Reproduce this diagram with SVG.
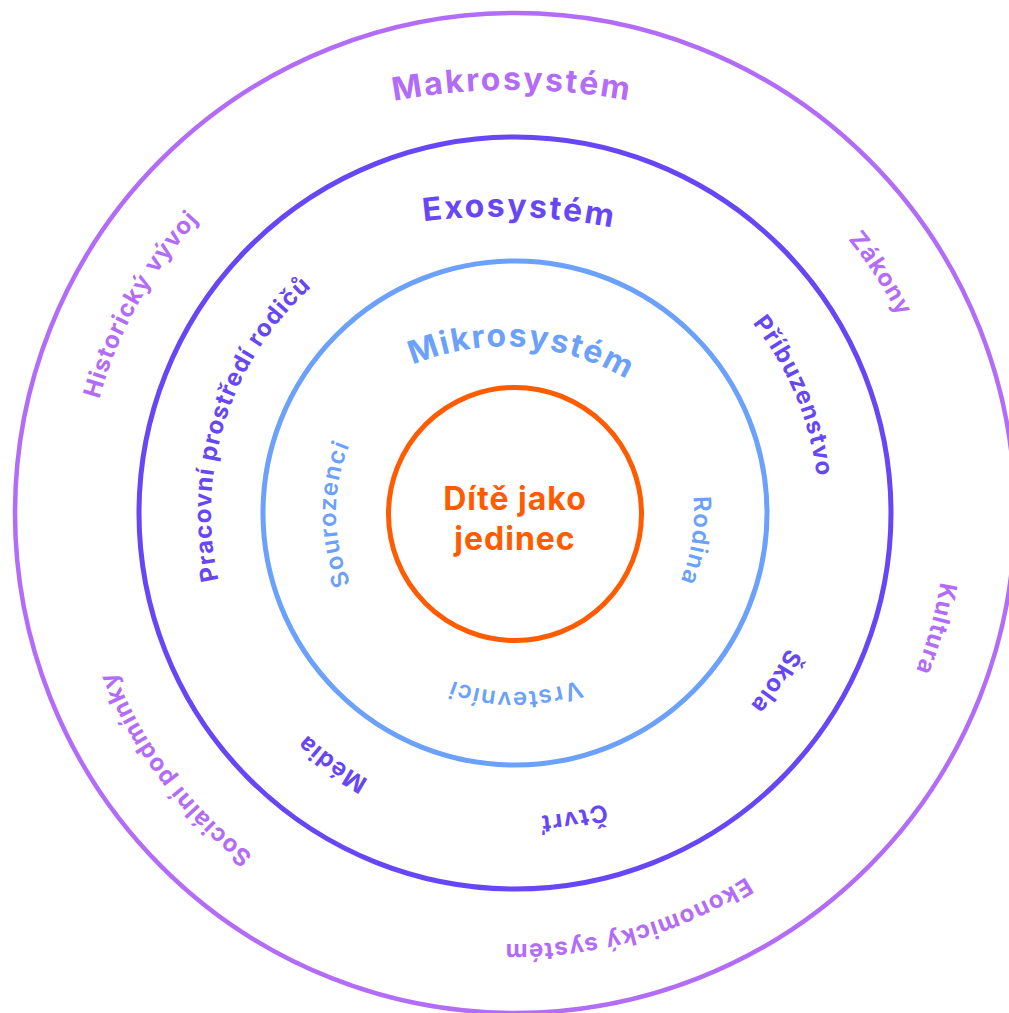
<svg xmlns="http://www.w3.org/2000/svg" width="1009" height="1013" viewBox="0 0 1009 1013">
<style>
  .ring{fill:none}
  .t{font-family:Inter,"Noto Sans","DejaVu Sans",sans-serif;font-size:24px;font-weight:700;letter-spacing:1.1px;text-anchor:middle}
  .h{font-size:32px;letter-spacing:2.2px}
  .cMac{fill:#B26CF7}
  .cExo{fill:#6747F5}
  .cMic{fill:#6BA1FA;font-weight:600;letter-spacing:1.3px}
  .cMicH{fill:#6BA1FA;letter-spacing:1.8px}
  .child{font-family:Inter,"Noto Sans","DejaVu Sans",sans-serif;font-size:32px;font-weight:700;fill:#FF5B00;text-anchor:middle;letter-spacing:1px}
</style>
<defs>
  <path id="c431" d="M515 944 A431 431 0 1 1 515 82 A431 431 0 1 1 515 944"/>
  <path id="c304" d="M515 817 A304 304 0 1 1 515 209 A304 304 0 1 1 515 817"/>
  <path id="c179" d="M515 692 A179 179 0 1 1 515 334 A179 179 0 1 1 515 692"/>
  <path id="a650" d="M-196.8 30.5 A650 650 0 0 1 196.8 30.5"/>
  <path id="a600" d="M-196.3 33 A600 600 0 0 1 196.3 33"/>
  <path id="a240" d="M-140.4 45.4 A240 240 0 0 1 140.4 45.4"/>
</defs>
<rect width="1009" height="1013" fill="#ffffff"/>

<g id="makrosystem">
  <circle class="ring" cx="515" cy="513" r="500" stroke="#B26CF7" stroke-width="4.5"/>
  <text class="t h cMac" transform="translate(512 90)"><textPath href="#a650" startOffset="50%">Makrosystém</textPath></text>
  <text class="t cMac" transform="rotate(299.1 515 513)"><textPath href="#c431" startOffset="50%">Historický vývoj</textPath></text>
  <text class="t cMac" transform="rotate(56.8 515 513)"><textPath href="#c431" startOffset="50%">Zákony</textPath></text>
  <text class="t cMac" transform="rotate(105.4 515 513)"><textPath href="#c431" startOffset="50%">Kultura</textPath></text>
  <text class="t cMac" transform="rotate(164.5 515 513)"><textPath href="#c431" startOffset="50%">Ekonomický systém</textPath></text>
  <text class="t cMac" transform="rotate(233 515 513)"><textPath href="#c431" startOffset="50%">Sociální podmínky</textPath></text>
</g>

<g id="exosystem">
  <circle class="ring" cx="515" cy="513" r="376" stroke="#6747F5" stroke-width="5"/>
  <text class="t h cExo" transform="translate(519 217) rotate(2)"><textPath href="#a600" startOffset="50%">Exosystém</textPath></text>
  <text class="t cExo" transform="rotate(287.7 515 513)"><textPath href="#c304" startOffset="50%">Pracovní prostředí rodičů</textPath></text>
  <text class="t cExo" transform="rotate(67.3 515 513)"><textPath href="#c304" startOffset="50%">Příbuzenstvo</textPath></text>
  <text class="t cExo" transform="rotate(122.9 515 513)"><textPath href="#c304" startOffset="50%">Škola</textPath></text>
  <text class="t cExo" transform="rotate(169.2 515 513)"><textPath href="#c304" startOffset="50%">Čtvrť</textPath></text>
  <text class="t cExo" transform="rotate(216.1 515 513)"><textPath href="#c304" startOffset="50%">Média</textPath></text>
</g>

<g id="mikrosystem">
  <circle class="ring" cx="515" cy="513" r="252" stroke="#6BA1FA" stroke-width="5"/>
  <text class="t h cMicH" transform="translate(522 347) rotate(4)"><textPath href="#a240" startOffset="50%">Mikrosystém</textPath></text>
  <text class="t cMic" transform="rotate(269.6 515 513)"><textPath href="#c179" startOffset="50%">Sourozenci</textPath></text>
  <text class="t cMic" transform="rotate(98.7 515 513)"><textPath href="#c179" startOffset="50%">Rodina</textPath></text>
  <text class="t cMic" transform="rotate(179.9 515 513)"><textPath href="#c179" startOffset="50%">Vrstevníci</textPath></text>
</g>

<g id="dite">
  <circle class="ring" cx="515" cy="514" r="126.5" stroke="#FF5B00" stroke-width="5"/>
  <text class="child" x="515" y="510">Dítě jako</text>
  <text class="child" x="515" y="550">jedinec</text>
</g>

<g id="connectors"/>
</svg>
